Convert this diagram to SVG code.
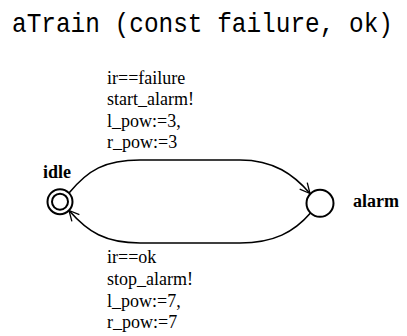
<svg xmlns="http://www.w3.org/2000/svg" width="407" height="336" viewBox="0 0 407 336">
<style>
.lbl{font-family:"Liberation Serif","Times New Roman",serif;font-size:18px;fill:#000}
.name{font-family:"Liberation Serif","Times New Roman",serif;font-size:18px;font-weight:bold;fill:#000}
.loc{fill:none;stroke:#000;stroke-width:2}
.edge{fill:none;stroke:#000;stroke-width:1.6}
</style>
<defs>
<marker id="arr" viewBox="0 0 12 12" refX="11" refY="6" markerWidth="12" markerHeight="12" markerUnits="userSpaceOnUse" orient="auto">
<path d="M1,1 L11,6 L1,11" fill="none" stroke="#000" stroke-width="1.3"/>
</marker>
</defs>
<rect width="407" height="336" fill="#fff"/>
<text transform="translate(12,31.7) scale(1,1.1)" font-family="'Liberation Mono','Courier New',monospace" font-size="25" textLength="381" lengthAdjust="spacingAndGlyphs" fill="#000">aTrain (const failure, ok)</text>
<g id="connectors">
<path class="edge" d="M69,193 C88,170 105,160 140,160 L240,160 C274,160 294,175 310,193.5" marker-end="url(#arr)"/>
<path class="edge" d="M310.5,213 C294,232 274,243 240,243 L140,243 C105,243 88,232 69,210.5" marker-end="url(#arr)"/>
<g id="label-start">
<text class="lbl" x="107" y="83.5">ir==failure</text>
<text class="lbl" x="107" y="105">start_alarm!</text>
<text class="lbl" x="107" y="126.5">l_pow:=3,</text>
<text class="lbl" x="107" y="148">r_pow:=3</text>
</g>
<g id="label-stop">
<text class="lbl" x="107" y="263">ir==ok</text>
<text class="lbl" x="107" y="285">stop_alarm!</text>
<text class="lbl" x="107" y="306.5">l_pow:=7,</text>
<text class="lbl" x="107" y="328">r_pow:=7</text>
</g>
</g>
<g id="idle">
<circle class="loc" cx="60" cy="201.7" r="12.5"/>
<circle class="loc" cx="60" cy="201.7" r="8"/>
<text class="name" x="43" y="178">idle</text>
</g>
<g id="alarm">
<circle class="loc" cx="320" cy="203.3" r="13.5"/>
<text class="name" x="353" y="207">alarm</text>
</g>
</svg>
